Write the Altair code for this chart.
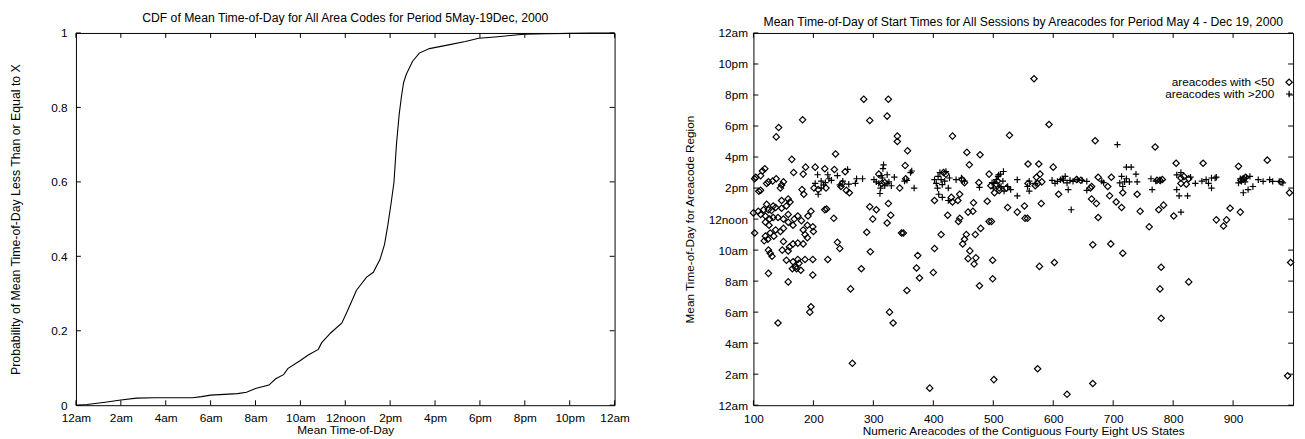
import json
import altair as alt
import pandas as pd

FONT = "Liberation Sans"

# ---------------- data: left panel (CDF) ----------------
cdf_hours = [0.0, 0.5, 1.3, 2.0, 2.7, 3.5, 4.1, 5.2, 5.6, 6.0,
             6.6, 7.2, 7.6, 8.0, 8.6, 8.9, 9.25, 9.45, 10.0, 10.35,
             10.8, 10.95, 11.35, 11.85, 12.1, 12.5, 12.95, 13.25, 13.55, 13.75,
             13.9, 14.05, 14.17, 14.28, 14.4, 14.5, 14.6, 14.72, 15.0, 15.3,
             15.75, 16.6, 17.35, 17.95, 18.8, 19.7, 20.0, 21.0, 22.0, 23.0, 24.0]
cdf_probs = [0.0, 0.002, 0.008, 0.014, 0.019, 0.020, 0.020, 0.020, 0.023, 0.027,
             0.029, 0.031, 0.035, 0.045, 0.054, 0.071, 0.082, 0.099, 0.120, 0.135,
             0.150, 0.168, 0.194, 0.221, 0.254, 0.309, 0.344, 0.357, 0.392, 0.432,
             0.485, 0.546, 0.599, 0.700, 0.780, 0.828, 0.867, 0.889, 0.924, 0.946,
             0.958, 0.968, 0.977, 0.986, 0.990, 0.995, 0.997, 0.998, 0.999, 1.0, 1.0]

# ---------------- data: right panel (scatter) ----------------
lt50_codes = [102, 104, 112, 119, 112, 125, 138, 147, 150, 132, 122, 145, 109, 102,
              108, 112, 100, 117, 120, 122, 133, 125, 130, 137, 147, 155, 147, 158, 161,
              120, 127, 133, 126, 141, 150, 158, 174, 180, 191, 196, 166, 158, 168,
              137, 145, 150, 120, 128, 134, 124, 118, 183, 186, 190, 199, 200,
              166, 174, 183, 150, 160, 158, 148, 125, 128, 131, 155, 174, 176, 166,
              170, 165, 172, 179, 186, 199, 190, 125, 158, 199, 141, 196, 194,
              142, 138, 182, 164, 237, 115, 167, 183, 187, 203, 219, 235, 253,
              181, 184, 201, 208, 221, 246, 255, 260, 248,
              219, 222, 234, 224, 240, 244, 262, 265, 280, 295, 289, 294, 305, 299,
              323, 325, 329, 327, 333, 347, 350, 356, 374, 372, 377, 402, 400, 394, 413,
              284, 325, 294, 323, 340, 340, 357, 353, 309, 314, 319, 344, 354,
              417, 421, 402, 430, 432, 441, 444, 448, 452, 460, 476, 493,
              432, 456, 478, 424, 442, 444, 458, 466, 467, 449, 455, 452, 461, 458,
              468, 471, 470, 479, 477, 499, 499, 501, 493, 497, 490, 527,
              496, 505, 510, 502, 510, 522, 507, 524, 540, 552, 553, 557,
              572, 570, 574, 581, 558, 558, 576, 600, 568, 593, 578, 580, 577, 574, 623, 602,
              609, 664, 664, 672, 675, 666, 696, 716, 691, 675, 697, 694, 705, 714, 716,
              740, 745, 760, 805, 850, 909, 957, 994, 996, 780, 778, 780, 826, 666, 991,
              670, 770, 639, 646, 662, 776, 784, 801, 872, 889, 884, 895, 912,
              773, 778, 782, 813, 813, 818, 822, 826, 913, 917, 921, 980]
lt50_hours = [11.1, 14.7, 14.8, 15.25, 13.86, 14.4, 14.6, 14.2, 14.4, 14.45, 14.3, 14.0, 13.8, 14.6,
              12.5, 12.3, 12.4, 12.6, 12.2, 12.95, 12.85, 12.6, 12.55, 12.75, 12.7, 12.85, 13.2, 13.3, 13.1,
              11.8, 12.0, 12.1, 11.6, 12.1, 12.0, 12.3, 12.2, 11.9, 12.2, 12.5, 11.6, 11.8, 12.0,
              11.3, 11.2, 11.4, 10.9, 11.1, 10.9, 10.7, 10.6, 11.3, 11.0, 11.6, 11.5, 11.2,
              10.4, 10.45, 10.4, 10.55, 10.2, 9.95, 10.0, 10.0, 9.8, 9.6, 9.35, 9.4, 9.15, 9.25,
              8.9, 8.8, 8.8, 8.7, 9.4, 9.4, 10.8, 8.5, 7.95, 8.4, 5.3, 6.35, 6.0,
              17.9, 17.3, 18.4, 15.85, 16.2, 15.1, 15.0, 14.9, 15.35, 15.35, 15.25, 15.2, 15.05,
              13.9, 13.6, 14.0, 13.9, 14.0, 14.1, 13.85, 13.7, 14.3,
              12.6, 12.65, 12.05, 9.4, 10.5, 10.1, 7.5, 2.7, 8.8, 9.9, 11.15, 12.8, 12.6, 12.0,
              11.75, 13.0, 12.25, 6.0, 5.3, 11.1, 11.1, 7.4, 9.65, 8.85, 8.2, 10.1, 8.55, 1.1, 11.0,
              19.73, 19.73, 18.36, 18.64, 17.35, 17.0, 16.4, 15.45, 14.9, 14.3, 14.35, 14.0, 14.6,
              15.0, 14.9, 13.2, 13.4, 13.1, 13.2, 13.6, 14.55, 14.35, 15.5, 14.35, 14.9,
              17.35, 16.3, 16.15, 12.25, 11.85, 12.05, 12.45, 12.5, 13.05, 10.4, 11.0, 10.7, 9.95, 9.45,
              9.1, 9.5, 11.0, 11.4, 7.7, 9.35, 8.15, 1.65, 11.85, 11.85, 13.15, 17.4,
              14.15, 14.25, 14.0, 13.7, 13.85, 14.0, 14.45, 12.75, 12.45, 12.85, 12.05, 12.05,
              14.7, 14.15, 14.3, 14.4, 14.3, 15.55, 15.55, 15.35, 21.05, 18.1, 14.9, 13.0, 8.95, 2.35, 0.7, 9.2,
              13.6, 14.1, 13.3, 13.0, 12.1, 10.35, 10.4, 9.8, 14.1, 14.7, 14.7, 13.5, 13.1, 12.75, 13.7,
              13.6, 12.5, 11.5, 15.6, 15.6, 15.4, 15.8, 13.7, 9.2, 8.9, 7.5, 5.6, 7.95, 1.4, 1.9,
              17.05, 16.65, 14.55, 14.5, 14.0, 12.6, 12.9, 12.2, 11.95, 11.95, 11.55, 12.7, 12.45,
              14.5, 14.5, 14.55, 14.65, 14.3, 14.75, 14.25, 14.6, 14.5, 14.6, 14.7, 14.4]

gt200_codes = [207, 213, 217, 208, 220, 224, 230, 240, 249, 257, 259, 270, 272, 282, 213, 203, 226, 244,
               301, 305, 309, 312, 315, 316, 317, 319, 311, 323, 323, 330, 335, 352, 362, 368, 326, 313, 356, 364,
               402, 408, 413, 421, 427, 415, 407, 425, 438, 447, 452, 409, 415, 425, 411, 419, 405, 477,
               501, 509, 517, 505, 513, 518, 500, 508, 516, 524, 540, 540, 560, 560, 557, 570, 498, 512, 529,
               598, 607, 612, 617, 620, 623, 628, 633, 640, 648, 656, 625, 630, 656, 684, 681, 603, 615,
               714, 722, 730, 738, 719, 727, 740, 711, 716, 722, 707, 763, 765, 771, 779,
               806, 813, 806, 824, 810, 829, 837, 813, 848, 855, 864, 870, 864, 859, 872,
               909, 914, 917, 922, 928, 917, 925, 933, 942, 950, 961, 966, 977, 983, 912, 920]
gt200_hours = [14.86, 14.45, 14.2, 13.6, 14.35, 14.86, 14.5, 14.8, 14.45, 15.2, 14.25, 14.3, 14.6, 14.6, 14.0, 14.3, 14.6, 14.2,
               14.55, 14.4, 14.3, 14.0, 14.65, 15.25, 15.5, 14.15, 13.65, 14.3, 14.86, 14.15, 14.7, 14.45, 15.0, 14.0, 14.4, 14.8, 14.5, 15.1,
               14.54, 14.75, 14.54, 15.07, 14.65, 14.22, 14.0, 14.0, 14.54, 14.65, 14.45, 13.6, 13.4, 13.2, 15.0, 14.45, 14.3, 14.05,
               14.3, 14.85, 15.07, 14.54, 14.1, 13.8, 14.0, 14.75, 14.45, 14.1, 14.54, 13.5, 14.45, 13.8, 14.1, 14.3, 14.35, 14.9, 13.9,
               14.5, 14.43, 14.54, 14.5, 14.75, 14.33, 14.5, 14.43, 14.54, 14.5, 14.43, 13.9, 12.6, 13.85, 14.35, 14.45, 14.3, 14.6,
               14.75, 15.35, 15.35, 14.9, 14.4, 14.4, 14.4, 14.33, 14.1, 14.6, 16.8, 14.6, 13.9, 14.45, 14.45,
               14.85, 15.0, 13.9, 13.5, 13.5, 14.7, 14.3, 12.45, 14.45, 14.54, 14.65, 14.65, 14.0, 14.3, 14.7,
               14.33, 14.43, 14.54, 14.65, 14.75, 13.7, 13.9, 14.1, 14.54, 14.43, 14.54, 14.43, 14.43, 14.33, 14.6, 14.4]

group_labels = ["areacodes with <50", "areacodes with >200"]
group_shapes = ["diamond", "M-1,0L1,0M0,-1L0,1"]

# ---------------- axis ticks / labels ----------------
hour_tick_values = [0, 2, 4, 6, 8, 10, 12, 14, 16, 18, 20, 22, 24]
hour_tick_labels = ["12am", "2am", "4am", "6am", "8am", "10am", "12noon",
                    "2pm", "4pm", "6pm", "8pm", "10pm", "12am"]
prob_tick_values = [0, 0.2, 0.4, 0.6, 0.8, 1.0]
code_tick_values = [100, 200, 300, 400, 500, 600, 700, 800, 900]

left_title = "CDF of Mean Time-of-Day for All Area Codes for Period 5May-19Dec, 2000"
right_title = "Mean Time-of-Day of Start Times for All Sessions by Areacodes for Period May 4 - Dec 19, 2000"

W_L, W_R, H = 547, 548, 378
TICK = 5
hour_expr = json.dumps(hour_tick_labels) + "[round(datum.value / 2)]"


def inward_ticks(df, enc, orient_field, width, height):
    """Inward tick marks on all four sides (gnuplot style)."""
    base = alt.Chart(df).mark_rule(color="black", strokeWidth=1)
    if orient_field == "x":
        return [
            base.encode(x=enc, y=alt.value(height), y2=alt.value(height - TICK)),
            base.encode(x=enc, y=alt.value(0), y2=alt.value(TICK)),
        ]
    return [
        base.encode(y=enc, x=alt.value(0), x2=alt.value(TICK)),
        base.encode(y=enc, x=alt.value(width), x2=alt.value(width - TICK)),
    ]


# ---------------- left panel ----------------
x_left = alt.X("hour:Q", scale=alt.Scale(domain=[0, 24], nice=False, zero=False),
               axis=alt.Axis(values=hour_tick_values, labelExpr=hour_expr,
                             title="Mean Time-of-Day", labelPadding=8, titlePadding=1,
                             labelFlush=False, labelOverlap=False))
y_left = alt.Y("prob:Q", scale=alt.Scale(domain=[0, 1], nice=False),
               axis=alt.Axis(values=prob_tick_values, format="~g",
                             title="Probability of Mean Time-of-Day Less Than or Equal to  X",
                             titleFontSize=12.5,
                             labelPadding=9, titlePadding=29,
                             labelFlush=False, labelOverlap=False))
cdf_df = pd.DataFrame({"hour": cdf_hours, "prob": cdf_probs})
line = alt.Chart(cdf_df).mark_line(color="black", strokeWidth=1.1).encode(x=x_left, y=y_left)
left_layers = [line]
left_layers += inward_ticks(pd.DataFrame({"hour": hour_tick_values}), x_left, "x", W_L, H)
left_layers += inward_ticks(pd.DataFrame({"prob": prob_tick_values}), y_left, "y", W_L, H)
left = alt.layer(*left_layers).properties(
    width=W_L, height=H,
    title=alt.TitleParams(text=left_title, fontSize=12.4, font=FONT, fontWeight="normal",
                          anchor="middle", frame="group", baseline="bottom",
                          offset=alt.ExprRef(expr="-10.5")),
)

# ---------------- right panel ----------------
x_right = alt.X("code:Q", scale=alt.Scale(domain=[100, 1000], nice=False, zero=False),
                axis=alt.Axis(values=code_tick_values,
                              title="Numeric Areacodes of the Contiguous Fourty Eight US States",
                              labelPadding=9, titlePadding=1, labelFlush=False, labelOverlap=False))
y_right = alt.Y("hour:Q", scale=alt.Scale(domain=[0, 24], nice=False, zero=False),
                axis=alt.Axis(values=hour_tick_values, labelExpr=hour_expr,
                              title="Mean Time-of-Day for Areacode Region",
                              labelPadding=6, titlePadding=12, labelFlush=False, labelOverlap=False))
scatter_df = pd.DataFrame({
    "code": lt50_codes + gt200_codes,
    "hour": lt50_hours + gt200_hours,
    "group": [group_labels[0]] * len(lt50_codes) + [group_labels[1]] * len(gt200_codes),
})
points = alt.Chart(scatter_df).mark_point(filled=False, color="black", strokeWidth=1.2,
                                          opacity=1, size=42).encode(
    x=x_right,
    y=y_right,
    shape=alt.Shape("group:N", scale=alt.Scale(domain=group_labels, range=group_shapes),
                    legend=alt.Legend(title=None, orient="none", legendX=538, legendY=44,
                                      labelAlign="right", labelOffset=alt.ExprRef(expr="-21"),
                                      labelFont=FONT, labelFontSize=12, labelColor="black",
                                      symbolStrokeColor="black", symbolStrokeWidth=1.2,
                                      symbolSize=42, rowPadding=0, padding=0)),
)
right_layers = [points]
right_layers += inward_ticks(pd.DataFrame({"code": code_tick_values}), x_right, "x", W_R, H)
right_layers += inward_ticks(pd.DataFrame({"hour": hour_tick_values}), y_right, "y", W_R, H)
right = alt.layer(*right_layers).properties(
    width=W_R, height=H,
    title=alt.TitleParams(text=right_title, fontSize=12.4, font=FONT, fontWeight="normal",
                          anchor="middle", frame="group", baseline="bottom",
                          offset=alt.ExprRef(expr="-14.5")),
)

chart = alt.hconcat(left, right, spacing=53).resolve_legend(shape="independent").properties(
    padding={"left": 0, "top": 0, "right": 0, "bottom": 0}
).configure_view(
    stroke="black", strokeWidth=1
).configure_axis(
    labelFont=FONT, titleFont=FONT, labelFontSize=12, titleFontSize=12,
    titleFontWeight="normal", labelColor="black", titleColor="black",
    grid=False, ticks=False, domain=False
).configure_title(color="black")

chart.save("out.html", embed_options={"renderer": "svg", "actions": False})
